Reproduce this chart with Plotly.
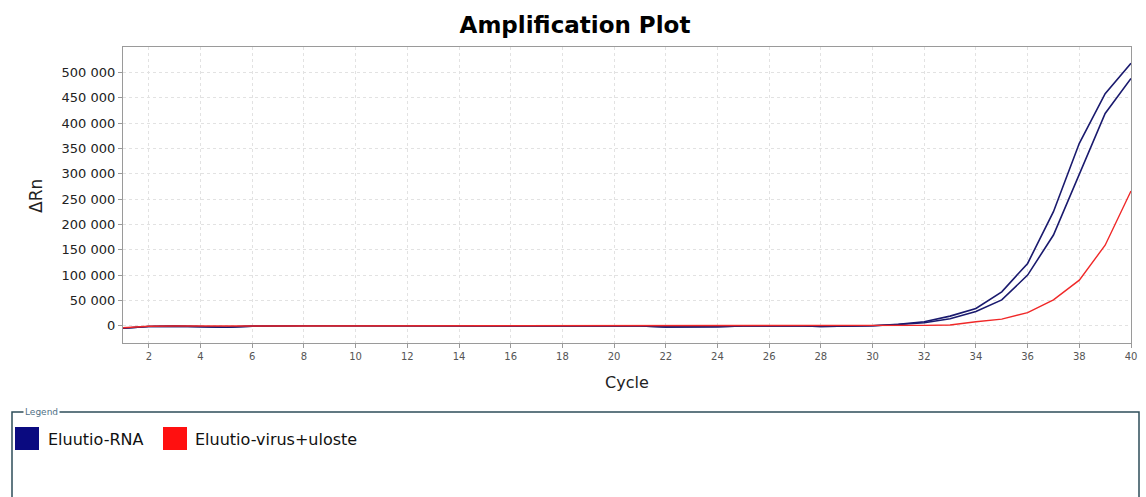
import plotly.graph_objects as go

cycles = list(range(1, 41))

rna_a = [-5000, -1500, -800, -1200, -3000, -800, 0, 0, 0, 0,
         0, 0, 0, 0, 0, 0, 0, 0, 0, 0,
         -600, -2200, -2200, -2000, -400, 0, 0, -1200, -800, 0,
         3000, 8000, 19000, 34000, 67000, 123000, 225000, 360000, 458000, 518000]
rna_b = [-5000, -1500, -800, -1200, -3000, -800, 0, 0, 0, 0,
         0, 0, 0, 0, 0, 0, 0, 0, 0, 0,
         -600, -2200, -2200, -2000, -400, 0, 0, -1200, -800, 0,
         2500, 6000, 14000, 28000, 51000, 100000, 179000, 300000, 419000, 488000]
virus = [-4000, -1000, -500, -500, -600, -300, 0, 0, 0, 0,
         0, 0, 0, 0, 0, 0, 0, 0, 0, 0,
         0, 0, 0, 0, 0, 0, 0, 0, 0, 0,
         500, 800, 1500, 8000, 13000, 26000, 51000, 90000, 159000, 266000]

legend_names = ["Eluutio-RNA", "Eluutio-virus+uloste"]
legend_colors = ["#0a0a80", "#ff1010"]

y_ticks = [0, 50000, 100000, 150000, 200000, 250000, 300000, 350000, 400000, 450000, 500000]
x_ticks = list(range(2, 41, 2))

FONT = "DejaVu Sans, Liberation Sans, Arial, sans-serif"

fig = go.Figure()
fig.add_trace(go.Scatter(x=cycles, y=rna_a, mode="lines",
                         line=dict(color="#1a1a6e", width=1.6), showlegend=False))
fig.add_trace(go.Scatter(x=cycles, y=rna_b, mode="lines",
                         line=dict(color="#1a1a6e", width=1.6), showlegend=False))
fig.add_trace(go.Scatter(x=cycles, y=virus, mode="lines",
                         line=dict(color="#f02828", width=1.4), showlegend=False))

# plot area geometry (pixels)
L, R, T, B = 123, 1131, 47, 343
W, H = 1146, 497
pw, ph = R - L, B - T


def px(x):
    return (x - L) / pw


def py(y):
    return (B - y) / ph


shapes = []
annotations = []

# legend frame
shapes.append(dict(type="path", xref="paper", yref="paper",
                   path=f"M {px(12)},{py(520)} L {px(12)},{py(412)} L {px(1139)},{py(412)} L {px(1139)},{py(520)}",
                   line=dict(color="#2e4d5a", width=1.5)))
annotations.append(dict(text="Legend", xref="paper", yref="paper", x=px(23), y=py(412),
                        xanchor="left", yanchor="middle", showarrow=False,
                        font=dict(family=FONT, size=9, color="#4f6f85"),
                        bgcolor="white", borderpad=1))

# legend entries
sq = [(15, 46), (163, 193)]
for (sx, tx), name, col in zip(sq, legend_names, legend_colors):
    shapes.append(dict(type="rect", xref="paper", yref="paper",
                       x0=px(sx), x1=px(sx + 24), y0=py(427), y1=py(450),
                       fillcolor=col, line=dict(color=col, width=0)))
    annotations.append(dict(text=name, xref="paper", yref="paper", x=px(tx), y=py(439),
                            xanchor="left", yanchor="middle", showarrow=False,
                            font=dict(family=FONT, size=16, color="#111111")))

# axis titles
annotations.append(dict(text="Cycle", xref="paper", yref="paper", x=px(627), y=py(382),
                        xanchor="center", yanchor="middle", showarrow=False,
                        font=dict(family=FONT, size=16, color="#222222")))
annotations.append(dict(text="ΔRn", xref="paper", yref="paper", x=px(36), y=py(196),
                        xanchor="center", yanchor="middle", showarrow=False, textangle=-90,
                        font=dict(family=FONT, size=17, color="#222222")))

fig.update_layout(
    width=W, height=H,
    margin=dict(l=L, r=W - R, t=T, b=H - B, autoexpand=False),
    paper_bgcolor="white", plot_bgcolor="white",
    separators=". ",
    title=dict(text="<b>Amplification Plot</b>", x=575 / W, xanchor="center",
               y=1 - 25 / H, yanchor="middle",
               font=dict(family=FONT, size=23, color="#000000")),
    shapes=shapes, annotations=annotations,
    showlegend=False,
)
fig.update_xaxes(range=[1, 40], tickvals=x_ticks, ticktext=[str(v) for v in x_ticks],
                 showgrid=True, gridcolor="#e2e2e2", griddash="3px,3px", gridwidth=1,
                 showline=True, linecolor="#9a9a9a", linewidth=1.2, mirror=True,
                 ticks="outside", ticklen=4, tickcolor="#9a9a9a",
                 tickfont=dict(family=FONT, size=10, color="#555555"), zeroline=False)
fig.update_yaxes(range=[-34000, 550000], tickvals=y_ticks, tickformat=",d",
                 showgrid=True, gridcolor="#e2e2e2", griddash="3px,3px", gridwidth=1,
                 showline=True, linecolor="#9a9a9a", linewidth=1.2, mirror=True,
                 ticks="outside", ticklen=4, tickcolor="#9a9a9a",
                 tickfont=dict(family=FONT, size=13, color="#222222"), zeroline=False)

fig.write_html("out.html")
